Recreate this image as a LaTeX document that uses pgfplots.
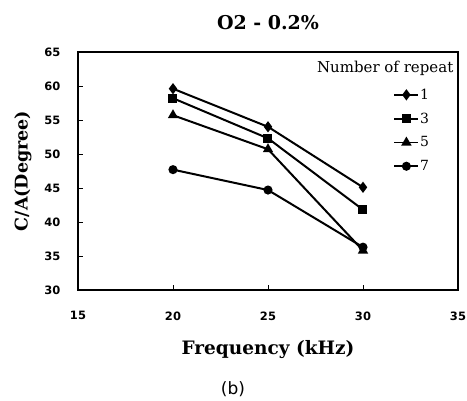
\documentclass[border=0pt]{standalone}
\usepackage{fontspec}
\setmainfont{DejaVu Serif}
\newfontfamily\tickfont{DejaVu Sans}
\newfontfamily\capfont{DejaVu Sans}
\usepackage{pgfplots}
\pgfplotsset{compat=1.18}

\begin{document}
\begin{tikzpicture}[x=1pt,y=1pt]
\useasboundingbox (-78,-111) rectangle (389,290);
\begin{axis}[
  at={(0,0)}, anchor=south west,
  scale only axis,
  width=380pt, height=238pt,
  xmin=15, xmax=35, ymin=30, ymax=65,
  xtick={15,20,25,30,35},
  ytick={30,35,40,45,50,55,60,65},
  tick pos=left,
  tick align=inside,
  major tick length=5pt,
  axis line style={line width=1.1pt},
  tick style={line width=0.8pt, black},
  ticklabel style={font=\tickfont\bfseries\fontsize{11.5}{11.5}\selectfont},
  /pgf/number format/assume math mode=true,
  xticklabel style={yshift=-18pt},
  yticklabel style={xshift=-14pt},
  title={\bfseries O2 - 0.2\%},
  title style={font=\fontsize{19}{19}\selectfont, yshift=13pt},
  xlabel={\bfseries Frequency (kHz)},
  xlabel style={font=\fontsize{18.5}{18.5}\selectfont, yshift=-13pt},
  ylabel={\bfseries C/A(Degree)},
  ylabel style={font=\fontsize{17.5}{17.5}\selectfont, yshift=6pt},
  legend style={draw=none, fill=none, at={(0.83,0.85)}, anchor=north west,
    font=\fontsize{14}{14}\selectfont, row sep=10pt, inner sep=0pt,
    nodes={inner sep=1pt}},
  legend image code/.code={
    \draw[#1, line width=1.6pt] (0pt,0pt) -- (24pt,0pt);
    \draw[#1, only marks] plot coordinates {(12pt,0pt)};},
  legend cell align=left,
  every axis plot/.append style={line width=2pt, black},
]
\addplot[mark=diamond*, mark size=4pt] coordinates {(20,59.6)(25,54.0)(30,45.1)};
\addlegendentry{1}
\addplot[mark=square*, mark size=3.5pt] coordinates {(20,58.2)(25,52.3)(30,41.8)};
\addlegendentry{3}
\addplot[mark=triangle*, mark size=4pt] coordinates {(20,55.7)(25,50.7)(30,35.8)};
\addlegendentry{5}
\addplot[mark=*, mark size=3.5pt] coordinates {(20,47.7)(25,44.7)(30,36.3)};
\addlegendentry{7}
\node[anchor=east, font=\fontsize{15}{15}\selectfont] at (rel axis cs:0.997,0.93) {Number of repeat};
\end{axis}
\node[font=\capfont\fontsize{17}{17}\selectfont] at (155,-99) {(b)};
\end{tikzpicture}
\end{document}
